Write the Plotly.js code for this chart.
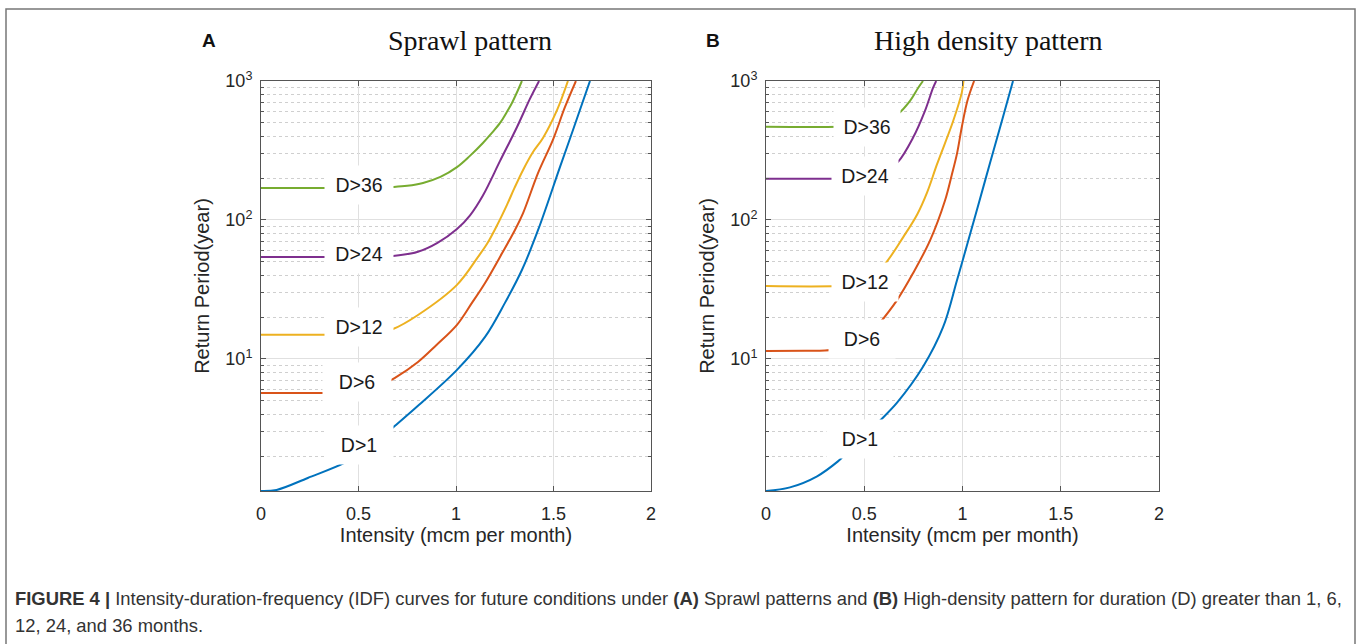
<!DOCTYPE html>
<html>
<head>
<meta charset="utf-8">
<script src="https://cdn.plot.ly/plotly-3.0.1.min.js"></script>
<style>html,body{margin:0;padding:0;background:#fff;}#chart{width:1357px;height:644px;}</style>
</head>
<body>
<div id="chart"></div>
<script>
// ---------- Data ----------
var seriesNames = ['D>1', 'D>6', 'D>12', 'D>24', 'D>36'];
var seriesColors = ['#0072BD', '#D95319', '#EDB120', '#7E2F8E', '#77AC30'];

// Panel A: Sprawl pattern  (intensity, return period)
var sprawlD1x  = [0, 0.08, 0.24, 0.43, 0.5, 0.6, 0.687, 0.805, 1.005, 1.149, 1.251, 1.338, 1.421, 1.533, 1.60, 1.687];
var sprawlD1y  = [1.12, 1.14, 1.39, 1.79, 2.08, 2.6, 3.30, 4.6, 8.34, 14.4, 25.3, 43.6, 84.7, 240, 444, 1000];
var sprawlD6x  = [0, 0.33, 0.5, 0.6, 0.687, 0.805, 0.9, 1.005, 1.08, 1.149, 1.236, 1.303, 1.344, 1.421, 1.497, 1.559, 1.615];
var sprawlD6y  = [5.69, 5.69, 5.75, 6.3, 7.3, 9.5, 12.6, 17.6, 25.1, 35.2, 57.5, 85.1, 112, 218, 377, 650, 1000];
var sprawlD12x = [0, 0.33, 0.5, 0.6, 0.677, 0.805, 1.005, 1.113, 1.16, 1.21, 1.262, 1.30, 1.344, 1.395, 1.446, 1.518, 1.574];
var sprawlD12y = [14.9, 14.9, 15.0, 15.4, 16.4, 20.7, 34.1, 54.2, 67.6, 91.2, 129, 170, 229, 308, 389, 617, 1000];
var sprawlD24x = [0, 0.33, 0.5, 0.6, 0.677, 0.805, 0.905, 1.005, 1.072, 1.138, 1.226, 1.313, 1.379, 1.426];
var sprawlD24y = [54.2, 54.2, 54.2, 54.4, 55, 59, 68.3, 85.9, 108, 150, 266, 467, 743, 1000];
var sprawlD36x = [0, 0.33, 0.5, 0.6, 0.677, 0.75, 0.831, 0.92, 1.005, 1.07, 1.138, 1.18, 1.226, 1.26, 1.287, 1.31, 1.338];
var sprawlD36y = [170, 170, 170, 171, 172.6, 176, 184.5, 204, 240, 288, 358, 417, 499, 596, 695, 813, 1000];

// Panel B: High density pattern
var denseD1x  = [0, 0.122, 0.260, 0.366, 0.392, 0.45, 0.5, 0.570, 0.667, 0.799, 0.901, 0.972, 1.023, 1.079, 1.14, 1.2, 1.257];
var denseD1y  = [1.12, 1.19, 1.43, 1.83, 1.98, 2.35, 2.7, 3.47, 4.84, 8.77, 16.9, 36.8, 66, 126, 257, 513, 1000];
var denseD6x  = [0, 0.2, 0.3, 0.36, 0.42, 0.48, 0.53, 0.570, 0.667, 0.748, 0.835, 0.911, 0.945, 0.972, 0.997, 1.025, 1.059];
var denseD6y  = [11.4, 11.45, 11.5, 11.7, 12.0, 13.2, 15.1, 17.5, 26.5, 41.3, 71.3, 138, 210, 300, 470, 720, 1000];
var denseD12x = [0, 0.36, 0.45, 0.52, 0.6, 0.7, 0.77, 0.82, 0.87, 0.952, 0.997, 1.005];
var denseD12y = [33.4, 33.4, 34.3, 37.6, 47.2, 75.9, 110, 158, 251, 513, 832, 1000];
var denseD24x = [0, 0.34, 0.45, 0.55, 0.62, 0.672, 0.748, 0.809, 0.85, 0.866];
var denseD24y = [198, 198, 200, 214, 234, 262, 390, 610, 891, 1000];
var denseD36x = [0, 0.37, 0.5, 0.6, 0.672, 0.733, 0.774, 0.799];
var denseD36y = [468, 468, 479, 513, 580, 720, 891, 1000];

var xTickVals = [0, 0.5, 1, 1.5, 2];
var xTickText = ['0', '0.5', '1', '1.5', '2'];
var yTickVals = [10, 100, 1000];
var yTickText = ['10<sup>1</sup>', '10<sup>2</sup>', '10<sup>3</sup>'];

var panelTitles = ['Sprawl pattern', 'High density pattern'];
var panelLetters = ['A', 'B'];
var xTitle = 'Intensity (mcm per month)';
var yTitle = 'Return Period(year)';
var captionLine1 = '<b>FIGURE 4 |</b> Intensity-duration-frequency (IDF) curves for future conditions under <b>(A)</b> Sprawl patterns and <b>(B)</b> High-density pattern for duration (D) greater than 1, 6,';
var captionLine2 = '12, 24, and 36 months.';

// label anchor positions (intensity, return period) for the in-line curve labels
var sprawlLabelX = [0.50, 0.49, 0.503, 0.503, 0.503];
var sprawlLabelY = [2.40, 6.84, 17.0, 56.9, 179];
var denseLabelX  = [0.48, 0.49, 0.504, 0.504, 0.516];
var denseLabelY  = [2.67, 13.9, 35.6, 208, 468];

// ---------- Build ----------
var W = 1357, H = 644;
function px(x) { return x / W; }
function py(y) { return 1 - y / H; }

var sprawlX = [sprawlD1x, sprawlD6x, sprawlD12x, sprawlD24x, sprawlD36x];
var sprawlY = [sprawlD1y, sprawlD6y, sprawlD12y, sprawlD24y, sprawlD36y];
var denseX = [denseD1x, denseD6x, denseD12x, denseD24x, denseD36x];
var denseY = [denseD1y, denseD6y, denseD12y, denseD24y, denseD36y];

var traces = [];
for (var i = 0; i < 5; i++) {
  traces.push({x: sprawlX[i], y: sprawlY[i], type: 'scatter', mode: 'lines', name: seriesNames[i],
    line: {color: seriesColors[i], width: 2, shape: 'spline', smoothing: 1.0}, xaxis: 'x', yaxis: 'y', showlegend: false});
  traces.push({x: denseX[i], y: denseY[i], type: 'scatter', mode: 'lines', name: seriesNames[i],
    line: {color: seriesColors[i], width: 2, shape: 'spline', smoothing: 1.0}, xaxis: 'x2', yaxis: 'y2', showlegend: false});
}

var minorVals = [];
for (var e = 0; e < 3; e++) for (var m = 2; m <= 9; m++) minorVals.push(m * Math.pow(10, e));

var sans = 'Liberation Sans, Arial, sans-serif';
var axisFont = {family: sans, size: 18, color: '#262626'};
var titleFont = {family: sans, size: 20, color: '#262626'};

function xAxis(domain, anchor) {
  return {domain: domain, anchor: anchor, range: [0, 2], tickmode: 'array', tickvals: xTickVals, ticktext: xTickText,
    showgrid: true, gridcolor: '#e0e0e0', gridwidth: 1, zeroline: false, showline: true, linecolor: '#555', linewidth: 1,
    mirror: 'ticks', ticks: 'inside', ticklen: 5, tickcolor: '#555', tickfont: axisFont, ticklabelstandoff: 6,
    title: {text: xTitle, font: titleFont, standoff: 5}};
}
function yAxis(domain, anchor) {
  return {domain: domain, anchor: anchor, type: 'log', range: [Math.log10(1.12), 3], tickmode: 'array', tickvals: yTickVals, ticktext: yTickText,
    showgrid: true, gridcolor: '#e0e0e0', gridwidth: 1, zeroline: false, showline: true, linecolor: '#555', linewidth: 1,
    mirror: 'ticks', ticks: 'inside', ticklen: 5, tickcolor: '#555', tickfont: axisFont, ticklabelstandoff: 4,
    minor: {tickmode: 'array', tickvals: minorVals, showgrid: true, gridcolor: '#cfcfcf', griddash: 'dot', gridwidth: 1, ticks: 'inside', ticklen: 3, tickcolor: '#555'},
    title: {text: yTitle, font: titleFont, standoff: 10}};
}

var yDom = [py(491), py(81)];
var annotations = [];
var serif = 'Liberation Serif, Times New Roman, serif';
annotations.push({text: panelTitles[0], x: px(470), y: py(41), xref: 'paper', yref: 'paper', xanchor: 'center', yanchor: 'middle', showarrow: false,
  font: {family: serif, size: 28, color: '#111'}});
annotations.push({text: panelTitles[1], x: px(988), y: py(41), xref: 'paper', yref: 'paper', xanchor: 'center', yanchor: 'middle', showarrow: false,
  font: {family: serif, size: 28, color: '#111'}});
annotations.push({text: '<b>' + panelLetters[0] + '</b>', x: px(209), y: py(41), xref: 'paper', yref: 'paper', xanchor: 'center', yanchor: 'middle', showarrow: false,
  font: {family: sans, size: 19, color: '#111'}});
annotations.push({text: '<b>' + panelLetters[1] + '</b>', x: px(713), y: py(41), xref: 'paper', yref: 'paper', xanchor: 'center', yanchor: 'middle', showarrow: false,
  font: {family: sans, size: 19, color: '#111'}});
// curve labels with white backing (like MATLAB text with a white background)
var labFont = {family: sans, size: 19.5, color: '#1a1a1a'};
for (var j = 0; j < 5; j++) {
  annotations.push({text: seriesNames[j].replace('>', '&gt;'), x: sprawlLabelX[j], y: Math.log10(sprawlLabelY[j]), xref: 'x', yref: 'y',
    xanchor: 'center', yanchor: 'middle', showarrow: false, bgcolor: '#ffffff', width: 66, height: 36, font: labFont});
  annotations.push({text: seriesNames[j].replace('>', '&gt;'), x: denseLabelX[j], y: Math.log10(denseLabelY[j]), xref: 'x2', yref: 'y2',
    xanchor: 'center', yanchor: 'middle', showarrow: false, bgcolor: '#ffffff', width: 64, height: 36, font: labFont});
}
// caption
var capFont = {family: 'Liberation Sans, Arial, sans-serif', size: 18.4, color: '#333'};
annotations.push({text: captionLine1, x: px(13), y: py(598), xref: 'paper', yref: 'paper', xanchor: 'left', yanchor: 'middle', showarrow: false, font: capFont});
annotations.push({text: captionLine2, x: px(13), y: py(625), xref: 'paper', yref: 'paper', xanchor: 'left', yanchor: 'middle', showarrow: false, font: capFont});

var layout = {
  width: W, height: H, margin: {l: 0, r: 0, t: 0, b: 0}, paper_bgcolor: '#fff', plot_bgcolor: '#fff',
  showlegend: false,
  xaxis: xAxis([px(261), px(651)], 'y'),
  yaxis: yAxis(yDom, 'x'),
  xaxis2: xAxis([px(766), px(1159)], 'y2'),
  yaxis2: yAxis(yDom, 'x2'),
  annotations: annotations,
  shapes: [{type: 'rect', xref: 'paper', yref: 'paper', x0: px(6), x1: px(1355), y0: -0.05, y1: py(9),
    line: {color: '#777', width: 1.5}, fillcolor: 'rgba(0,0,0,0)'}]
};

Plotly.newPlot('chart', traces, layout, {displayModeBar: false, staticPlot: true});
</script>
</body>
</html>
